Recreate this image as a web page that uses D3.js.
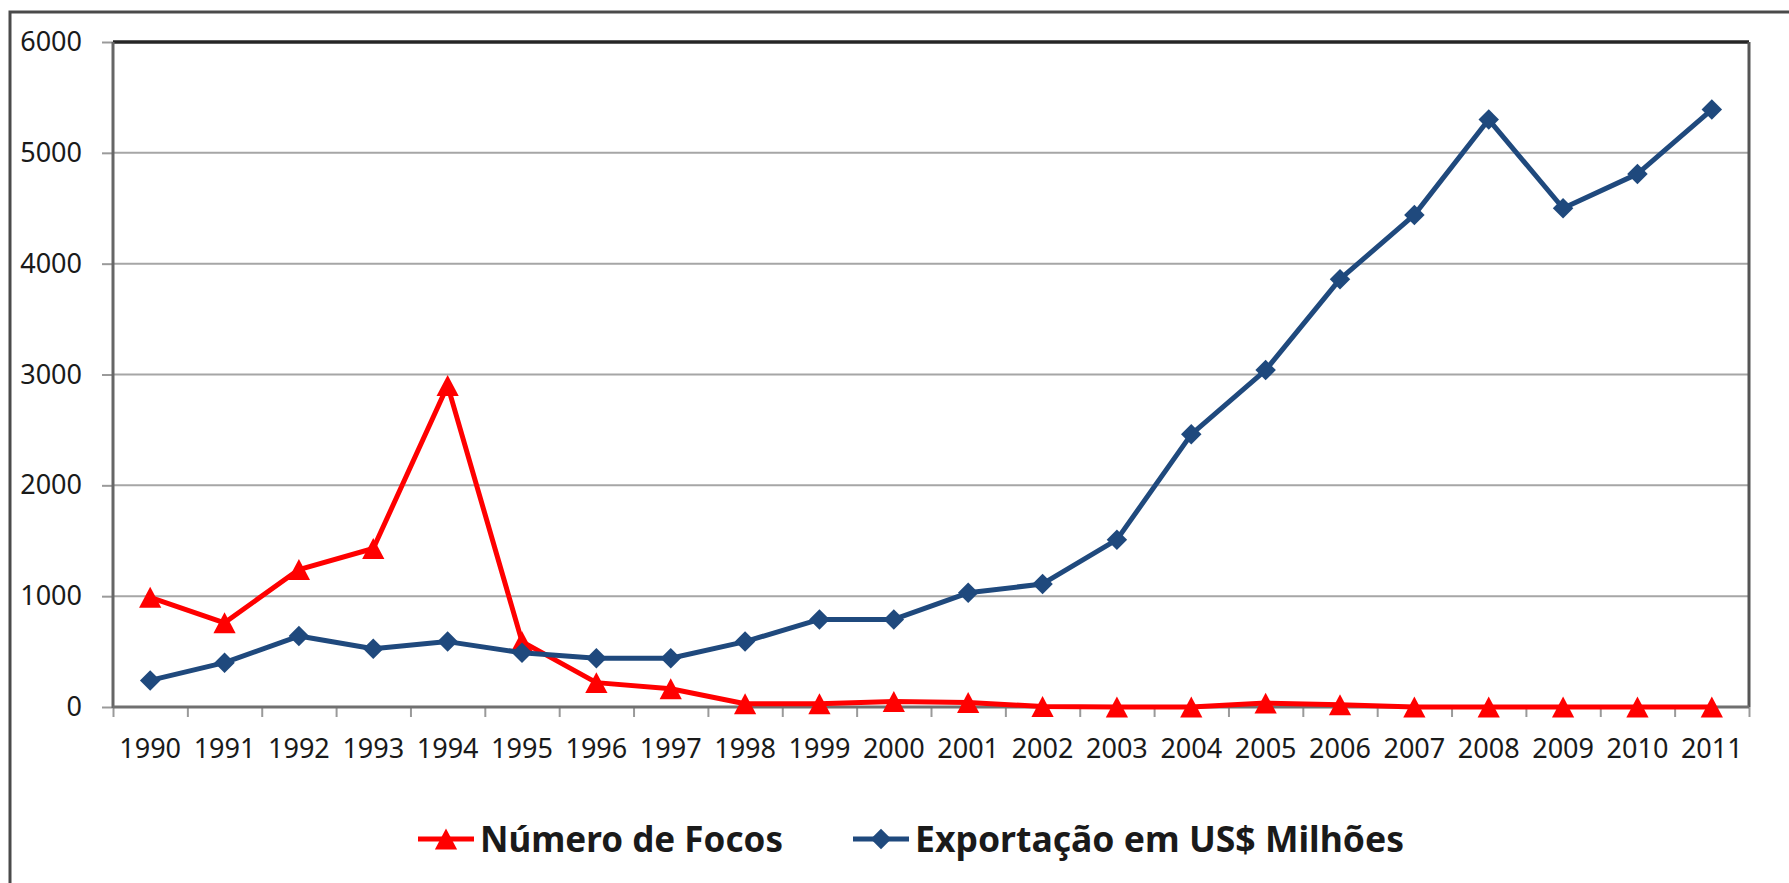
<!DOCTYPE html>
<html>
    <head>
        <script src="https://cdnjs.cloudflare.com/ajax/libs/d3/7.8.5/d3.min.js"></script>
        <title>Focos e Exportação</title>

        <style>

            html, body {
                height: 100%;
                margin: 0;
                background-color: white;
            }

            .svg_canvas {
                display: block;
            }

            text {
                font-family: "Noto Sans", "Open Sans", sans-serif;
                fill: #1a1a1a;
            }

        </style>
    </head>
    <body>
        <svg height="883" width="1789" class="svg_canvas">
        </svg>

        <script>

            var years = ["1990", "1991", "1992", "1993", "1994", "1995", "1996", "1997", "1998", "1999", "2000",
                         "2001", "2002", "2003", "2004", "2005", "2006", "2007", "2008", "2009", "2010", "2011"];

            var focos = [990, 760, 1240, 1430, 2900, 590, 220, 165, 30, 30, 50,
                         40, 5, 0, 0, 35, 20, 0, 0, 0, 0, 0];

            var exportacao = [240, 400, 640, 525, 590, 490, 440, 440, 590, 790, 790,
                              1030, 1110, 1510, 2460, 3040, 3860, 4440, 5300, 4500, 4810, 5390];

            var yTicks = [0, 1000, 2000, 3000, 4000, 5000, 6000];

            var series = [
                {name: "Número de Focos", values: focos, color: "#ff0000", marker: "triangle"},
                {name: "Exportação em US$ Milhões", values: exportacao, color: "#1f497d", marker: "diamond"}
            ];

            // plot area edges (window.top is reserved, so prefixed names)
            var plotLeft = 113, plotRight = 1749, plotTop = 42, plotBottom = 707;

            var svg = d3.select("svg");

            // outer chart border (runs off the right and bottom of the picture)
            svg.append("rect")
                .attr("x", 10).attr("y", 12)
                .attr("width", 1800).attr("height", 900)
                .attr("fill", "none")
                .attr("stroke", "#4a4a4a")
                .attr("stroke-width", 3);

            var x = d3.scaleBand()
                .domain(years)
                .range([plotLeft, plotRight])
                .padding(0);

            var xEdges = d3.scaleLinear()
                .domain([0, years.length])
                .range([plotLeft, plotRight]);

            var y = d3.scaleLinear()
                .domain([0, 6000])
                .range([plotBottom, plotTop]);

            function cx(i) { return x(years[i]) + x.bandwidth() / 2; }

            // gridlines
            svg.append("g")
                .selectAll("line")
                .data(yTicks.slice(1, -1))
                .enter()
                .append("line")
                .attr("x1", plotLeft).attr("x2", plotRight)
                .attr("y1", function(d){ return y(d); })
                .attr("y2", function(d){ return y(d); })
                .attr("stroke", "#a6a6a6")
                .attr("stroke-width", 2);

            // y axis
            var yAxis = svg.append("g")
                .attr("transform", "translate(" + plotLeft + ",0)")
                .call(d3.axisLeft(y).tickValues(yTicks).tickFormat(d3.format("d")).tickSize(11).tickPadding(20));
            yAxis.select(".domain").remove();
            yAxis.selectAll(".tick line").attr("stroke", "#9a9a9a").attr("stroke-width", 2);
            yAxis.selectAll("text").style("font-size", "27px").attr("fill", "#1a1a1a");

            // x axis: boundary ticks
            var xTickAxis = svg.append("g")
                .attr("transform", "translate(0," + plotBottom + ")")
                .call(d3.axisBottom(xEdges).ticks(years.length).tickSize(10).tickFormat(""));
            xTickAxis.select(".domain").remove();
            xTickAxis.selectAll(".tick line").attr("stroke", "#9a9a9a").attr("stroke-width", 2);

            // x axis: labels
            var xAxis = svg.append("g")
                .attr("transform", "translate(0," + plotBottom + ")")
                .call(d3.axisBottom(x).tickSize(0).tickPadding(32));
            xAxis.select(".domain").remove();
            xAxis.selectAll("text").style("font-size", "27px").attr("fill", "#1a1a1a");

            // plot frame
            svg.append("line").attr("x1", plotLeft).attr("x2", plotRight).attr("y1", plotTop).attr("y2", plotTop)
                .attr("stroke", "#262626").attr("stroke-width", 3.5);
            svg.append("line").attr("x1", plotRight).attr("x2", plotRight).attr("y1", plotTop).attr("y2", plotBottom)
                .attr("stroke", "#555").attr("stroke-width", 3);
            svg.append("line").attr("x1", plotLeft).attr("x2", plotLeft).attr("y1", plotTop).attr("y2", plotBottom + 1)
                .attr("stroke", "#666").attr("stroke-width", 3);
            svg.append("line").attr("x1", plotLeft).attr("x2", plotRight).attr("y1", plotBottom).attr("y2", plotBottom)
                .attr("stroke", "#707070").attr("stroke-width", 3);

            var triangleType = {
                draw: function(context, size) {
                    var h = Math.sqrt(size);
                    context.moveTo(0, -h / 2);
                    context.lineTo(h * 0.53, h / 2);
                    context.lineTo(-h * 0.53, h / 2);
                    context.closePath();
                }
            };

            var diamondType = {
                draw: function(context, size) {
                    var r = Math.sqrt(size) / 2;
                    context.moveTo(0, -r);
                    context.lineTo(r, 0);
                    context.lineTo(0, r);
                    context.lineTo(-r, 0);
                    context.closePath();
                }
            };

            var symbols = {
                triangle: d3.symbol().type(triangleType).size(440),
                diamond: d3.symbol().type(diamondType).size(420)
            };

            var line = d3.line()
                .x(function(d, i){ return cx(i); })
                .y(function(d){ return y(d); });

            var groups = svg.selectAll(".series")
                .data(series)
                .enter()
                .append("g")
                .attr("class", "series");

            groups.append("path")
                .attr("d", function(s){ return line(s.values); })
                .attr("fill", "none")
                .attr("stroke", function(s){ return s.color; })
                .attr("stroke-width", 5)
                .attr("stroke-linejoin", "round");

            groups.each(function(s){
                d3.select(this).selectAll(".mark")
                    .data(s.values)
                    .enter()
                    .append("path")
                    .attr("class", "mark")
                    .attr("d", symbols[s.marker])
                    .attr("transform", function(d, i){ return "translate(" + cx(i) + "," + y(d) + ")"; })
                    .attr("fill", s.color);
            });

            // legend
            var legendItems = [
                {lineX: 418, textX: 480, width: 303},
                {lineX: 853, textX: 915, width: 489}
            ];
            var legendY = 839;

            var legend = svg.selectAll(".legend")
                .data(series)
                .enter()
                .append("g")
                .attr("class", "legend");

            legend.append("line")
                .attr("x1", function(s, i){ return legendItems[i].lineX; })
                .attr("x2", function(s, i){ return legendItems[i].lineX + 56; })
                .attr("y1", legendY).attr("y2", legendY)
                .attr("stroke", function(s){ return s.color; })
                .attr("stroke-width", 5);

            legend.append("path")
                .attr("d", function(s){ return symbols[s.marker](); })
                .attr("transform", function(s, i){ return "translate(" + (legendItems[i].lineX + 28) + "," + legendY + ")"; })
                .attr("fill", function(s){ return s.color; });

            legend.append("text")
                .attr("x", function(s, i){ return legendItems[i].textX; })
                .attr("y", 852)
                .attr("textLength", function(s, i){ return legendItems[i].width; })
                .attr("lengthAdjust", "spacingAndGlyphs")
                .style("font-size", "35px")
                .style("font-weight", "bold")
                .attr("fill", "#000")
                .text(function(s){ return s.name; });

        </script>
    </body>
</html>
